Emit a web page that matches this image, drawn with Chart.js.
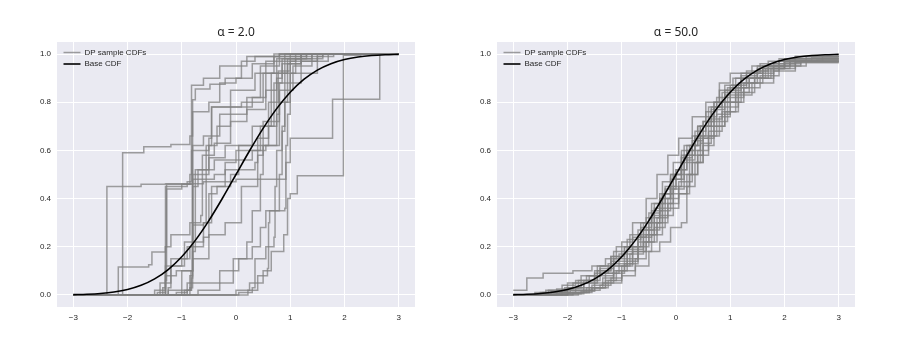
<!DOCTYPE html>
<html>
<head>
<meta charset="utf-8">
<script src="https://cdn.jsdelivr.net/npm/chart.js@4.4.1/dist/chart.umd.min.js"></script>
<style>
  html, body { margin: 0; padding: 0; background: #fff; }
  #wrap { position: relative; width: 900px; height: 345px; }
  .panel { position: absolute; top: 0; width: 450px; height: 345px; }
</style>
</head>
<body>
<div id="wrap">
  <div class="panel" style="left:0"><canvas id="leftChart"></canvas></div>
  <div class="panel" style="left:450px"><canvas id="rightChart"></canvas></div>
</div>
<script>
// tick values
const xTicks = [-3, -2, -1, 0, 1, 2, 3];
const yTicks = [0, 0.2, 0.4, 0.6, 0.8, 1.0];

// base CDF (standard normal) read at these x
const baseX   = [-3, -2.75, -2.5, -2.25, -2, -1.75, -1.5, -1.25, -1, -0.75, -0.5, -0.25, 0,
                 0.25, 0.5, 0.75, 1, 1.25, 1.5, 1.75, 2, 2.25, 2.5, 2.75, 3];
const baseCdf = [0.0013, 0.003, 0.0062, 0.0122, 0.0228, 0.0401, 0.0668, 0.1056, 0.1587, 0.2266, 0.3085, 0.4013, 0.5,
                 0.5987, 0.6915, 0.7734, 0.8413, 0.8944, 0.9332, 0.9599, 0.9772, 0.9878, 0.9938, 0.997, 0.9987];

// alpha = 2 : each sample is a list of [jump x, cdf after jump]
const leftSamples = [
  [[-2.09,0.59],[-1.7,0.615],[-1.2,0.625],[-0.85,0.66],[-0.8,0.81],[-0.75,0.855],[-0.48,0.875],[-0.2,0.9],[0.1,0.97],[0.35,0.99],[1.0,1.0]],
  [[-2.38,0.45],[-1.75,0.46],[-1.3,0.462],[-0.6,0.47],[0.0,0.48],[0.92,0.62],[0.95,0.75],[1.0,0.97],[1.5,1.0]],
  [[-2.17,0.116],[-1.61,0.125],[-1.55,0.178],[-1.3,0.2],[-1.28,0.46],[-0.8,0.5],[-0.5,0.62],[-0.45,0.78],[0.3,0.82],[0.45,0.95],[0.8,1.0]],
  [[0.0,0.02],[0.25,0.05],[0.5,0.1],[0.65,0.18],[0.88,0.25],[0.95,0.4],[1.0,0.42],[1.13,0.495],[1.98,0.995],[2.3,1.0]],
  [[0.22,0.02],[0.4,0.08],[0.58,0.11],[0.6,0.3],[0.62,0.35],[0.9,0.36],[0.92,0.55],[1.0,0.65],[1.78,0.812],[2.65,1.0]],
  [[-1.35,0.03],[-1.3,0.45],[-0.9,0.47],[-0.82,0.6],[-0.5,0.65],[-0.45,0.78],[0.1,0.8],[0.5,0.92],[0.9,1.0]],
  [[-1.3,0.2],[-1.2,0.25],[-0.85,0.3],[-0.8,0.62],[-0.6,0.66],[-0.3,0.75],[0.2,0.82],[0.55,0.97],[1.1,1.0]],
  [[-1.0,0.02],[-0.85,0.08],[-0.8,0.45],[-0.7,0.52],[-0.4,0.56],[0.3,0.6],[0.45,0.7],[0.75,0.9],[0.85,0.98],[1.4,1.0]],
  [[-1.4,0.05],[-1.2,0.12],[-0.95,0.22],[-0.6,0.3],[-0.55,0.62],[-0.35,0.7],[-0.1,0.85],[0.35,0.92],[0.7,0.99],[1.3,1.0]],
  [[-1.25,0.02],[-1.0,0.1],[-0.8,0.15],[-0.5,0.25],[-0.2,0.3],[0.1,0.45],[0.4,0.58],[0.5,0.72],[0.8,0.8],[0.95,0.96],[1.2,1.0]],
  [[-0.7,0.02],[-0.3,0.05],[-0.05,0.15],[0.2,0.22],[0.3,0.35],[0.45,0.5],[0.5,0.62],[0.75,0.75],[0.8,0.85],[1.05,0.95],[1.4,1.0]],
  [[-0.85,0.03],[-0.8,0.29],[-0.6,0.3],[-0.45,0.45],[-0.1,0.5],[0.05,0.62],[0.3,0.7],[0.6,0.8],[0.78,0.93],[1.0,0.99],[1.6,1.0]],
  [[-1.5,0.02],[-1.3,0.08],[-1.1,0.1],[-0.8,0.18],[-0.75,0.52],[-0.5,0.57],[-0.2,0.62],[0.6,0.7],[0.7,0.88],[0.85,0.96],[1.2,1.0]],
  [[-1.1,0.01],[-0.9,0.05],[-0.3,0.1],[0.05,0.15],[0.3,0.2],[0.45,0.28],[0.55,0.35],[0.8,0.5],[0.85,0.7],[0.9,0.92],[1.1,0.98],[1.6,1.0]],
  [[-1.3,0.12],[-1.0,0.15],[-0.85,0.2],[-0.8,0.48],[-0.4,0.5],[-0.2,0.55],[0.0,0.6],[0.55,0.62],[0.8,0.88],[1.2,0.97],[1.7,1.0]],
  [[-0.9,0.02],[-0.82,0.07],[-0.8,0.76],[-0.5,0.8],[-0.3,0.88],[0.0,0.9],[0.3,0.96],[0.7,1.0]],
  [[0.05,0.01],[0.3,0.03],[0.35,0.15],[0.55,0.2],[0.7,0.24],[0.72,0.45],[0.75,0.6],[0.85,0.68],[0.9,0.8],[1.0,0.92],[1.5,0.99],[1.8,1.0]],
  [[-1.25,0.03],[-1.2,0.15],[-0.9,0.2],[-0.6,0.24],[-0.5,0.42],[-0.35,0.45],[-0.2,0.52],[0.35,0.55],[0.4,0.65],[0.6,0.7],[0.65,0.92],[0.95,0.98],[1.3,1.0]],
  [[-1.45,0.01],[-1.3,0.06],[-1.28,0.44],[-1.0,0.46],[-0.85,0.5],[-0.82,0.87],[-0.6,0.9],[-0.3,0.95],[0.2,0.99],[0.8,1.0]],
  [[-0.95,0.02],[-0.83,0.1],[-0.8,0.3],[-0.65,0.33],[-0.62,0.58],[-0.4,0.63],[-0.1,0.72],[0.2,0.77],[0.55,0.85],[0.75,0.98],[1.2,1.0]]
];

// alpha = 50
const rightSamples = [
  [[-3,0.02],[-2.75,0.07],[-2.45,0.09],[-1.9,0.1],[-1.55,0.12],[-1.3,0.15],[-1.1,0.2],[-0.85,0.25],[-0.6,0.3],[-0.4,0.38],[-0.2,0.45],[0.0,0.52],[0.2,0.6],[0.45,0.7],[0.7,0.78],[0.9,0.85],[1.2,0.9],[1.6,0.94],[2.0,0.96],[2.3,0.97]],
  [[-2.6,0.005],[-2.0,0.01],[-1.6,0.03],[-1.3,0.05],[-1.0,0.08],[-0.75,0.12],[-0.5,0.18],[-0.3,0.22],[-0.1,0.28],[0.1,0.3],[0.2,0.45],[0.35,0.55],[0.5,0.65],[0.7,0.72],[0.95,0.8],[1.2,0.88],[1.5,0.93],[1.9,0.97],[2.4,0.99]],
  [[-2.3,0.01],[-2.0,0.03],[-1.8,0.06],[-1.5,0.1],[-1.2,0.16],[-1.0,0.22],[-0.8,0.3],[-0.55,0.4],[-0.35,0.5],[-0.15,0.58],[0.05,0.65],[0.3,0.74],[0.55,0.8],[0.8,0.88],[1.0,0.92],[1.4,0.95],[1.9,0.97],[2.5,0.98]],
  [[-2.5,0.01],[-2.1,0.02],[-1.7,0.05],[-1.45,0.08],[-1.15,0.12],[-0.9,0.18],[-0.7,0.24],[-0.45,0.33],[-0.25,0.42],[-0.05,0.48],[0.15,0.56],[0.35,0.65],[0.6,0.73],[0.85,0.8],[1.1,0.86],[1.35,0.9],[1.7,0.95],[2.1,0.97],[2.7,0.98]],
  [[-2.2,0.01],[-1.95,0.02],[-1.55,0.04],[-1.35,0.07],[-1.15,0.1],[-0.95,0.14],[-0.7,0.2],[-0.5,0.27],[-0.3,0.35],[-0.1,0.45],[0.1,0.55],[0.25,0.62],[0.45,0.7],[0.65,0.77],[0.9,0.83],[1.15,0.88],[1.45,0.92],[1.8,0.96],[2.2,0.99]],
  [[-2.4,0.02],[-2.1,0.04],[-1.85,0.06],[-1.6,0.08],[-1.4,0.11],[-1.15,0.15],[-0.9,0.19],[-0.6,0.25],[-0.4,0.3],[-0.25,0.38],[-0.05,0.44],[0.15,0.5],[0.3,0.58],[0.5,0.66],[0.75,0.75],[1.0,0.82],[1.25,0.88],[1.6,0.94],[2.0,0.965]],
  [[-2.0,0.005],[-1.7,0.02],[-1.5,0.05],[-1.3,0.09],[-1.05,0.13],[-0.8,0.2],[-0.6,0.27],[-0.4,0.36],[-0.2,0.44],[0.0,0.52],[0.2,0.62],[0.4,0.7],[0.6,0.78],[0.8,0.85],[1.05,0.9],[1.3,0.93],[1.7,0.97],[2.2,0.99]],
  [[-1.9,0.01],[-1.6,0.02],[-1.4,0.04],[-1.2,0.07],[-1.0,0.1],[-0.75,0.15],[-0.55,0.22],[-0.35,0.3],[-0.15,0.38],[0.05,0.45],[0.25,0.55],[0.45,0.63],[0.65,0.7],[0.9,0.78],[1.15,0.84],[1.45,0.9],[1.8,0.95],[2.3,0.97]],
  [[-2.3,0.015],[-2.0,0.03],[-1.7,0.06],[-1.45,0.1],[-1.2,0.14],[-0.95,0.2],[-0.65,0.28],[-0.45,0.35],[-0.25,0.42],[-0.05,0.5],[0.15,0.58],[0.35,0.66],[0.55,0.74],[0.75,0.82],[1.0,0.87],[1.3,0.92],[1.6,0.95],[2.0,0.975]],
  [[-2.1,0.01],[-1.85,0.03],[-1.6,0.06],[-1.4,0.09],[-1.15,0.12],[-0.85,0.17],[-0.6,0.22],[-0.4,0.28],[-0.2,0.36],[0.05,0.42],[0.25,0.5],[0.4,0.6],[0.6,0.68],[0.85,0.76],[1.1,0.84],[1.35,0.9],[1.75,0.94],[2.2,0.965]],
  [[-2.6,0.01],[-2.2,0.025],[-1.9,0.05],[-1.65,0.08],[-1.4,0.12],[-1.15,0.18],[-0.9,0.23],[-0.65,0.3],[-0.45,0.38],[-0.25,0.47],[-0.05,0.55],[0.15,0.62],[0.4,0.7],[0.65,0.78],[0.85,0.84],[1.1,0.9],[1.5,0.94],[2.0,0.97],[2.6,0.975]],
  [[-1.8,0.01],[-1.55,0.03],[-1.3,0.06],[-1.1,0.1],[-0.9,0.15],[-0.7,0.22],[-0.5,0.3],[-0.3,0.4],[-0.1,0.48],[0.1,0.58],[0.3,0.66],[0.5,0.72],[0.7,0.8],[0.95,0.86],[1.2,0.91],[1.5,0.95],[1.9,0.98],[2.5,0.985]],
  [[-2.2,0.005],[-1.75,0.015],[-1.5,0.03],[-1.25,0.06],[-1.0,0.12],[-0.8,0.18],[-0.55,0.25],[-0.35,0.32],[-0.15,0.4],[0.05,0.47],[0.3,0.55],[0.5,0.62],[0.7,0.7],[0.9,0.76],[1.15,0.83],[1.4,0.88],[1.8,0.93],[2.2,0.97]],
  [[-2.45,0.01],[-2.05,0.03],[-1.75,0.05],[-1.5,0.09],[-1.25,0.13],[-1.05,0.17],[-0.8,0.24],[-0.55,0.32],[-0.3,0.4],[-0.1,0.5],[0.1,0.6],[0.35,0.68],[0.55,0.76],[0.75,0.8],[1.0,0.86],[1.3,0.9],[1.65,0.94],[2.1,0.98],[2.7,0.99]],
  [[-2.0,0.01],[-1.65,0.03],[-1.35,0.05],[-1.15,0.09],[-0.95,0.13],[-0.7,0.18],[-0.45,0.25],[-0.25,0.33],[-0.05,0.42],[0.2,0.5],[0.4,0.58],[0.6,0.66],[0.8,0.74],[1.0,0.8],[1.25,0.86],[1.55,0.91],[1.9,0.95],[2.4,0.97]],
  [[-2.35,0.02],[-2.0,0.05],[-1.75,0.08],[-1.45,0.12],[-1.2,0.16],[-0.95,0.2],[-0.7,0.27],[-0.5,0.34],[-0.3,0.42],[-0.1,0.5],[0.1,0.57],[0.3,0.64],[0.5,0.72],[0.7,0.8],[0.9,0.87],[1.2,0.92],[1.55,0.96],[2.0,0.98]]
];

const GRAY = 'rgba(128,128,128,0.75)';
const TEXT = '#262626';

// grey plot background like seaborn darkgrid
const bgPlugin = {
    id: 'plotBg',
    beforeDraw(chart) {
        const a = chart.chartArea;
        const c = chart.ctx;
        c.save();
        c.fillStyle = '#eaeaf2';
        c.fillRect(a.left, a.top, a.right - a.left, a.bottom - a.top);
        c.restore();
    },
    // legend sits inside the axes, top-left corner
    afterLayout(chart) {
        const lg = chart.legend;
        if (!lg) return;
        const a = chart.chartArea;
        const h = lg.height;
        lg.left = a.left + 3;
        lg.top = a.top + 3;
        lg.bottom = lg.top + h;
    }
};

function stepData(sample) {
    const pts = [];
    if (sample[0][0] > -3) pts.push({ x: -3, y: 0 });
    sample.forEach(p => pts.push({ x: p[0], y: p[1] }));
    pts.push({ x: 3, y: sample[sample.length - 1][1] });
    return pts;
}

function makePanel(id, title, samples, axisWidth, rightPad) {
    const datasets = samples.map((s, i) => ({
        label: i === 0 ? 'DP sample CDFs' : '',
        data: stepData(s),
        borderColor: GRAY,
        backgroundColor: GRAY,
        borderWidth: 1.5,
        pointRadius: 0,
        stepped: true,
        fill: false,
        order: 1
    }));
    datasets.push({
        label: 'Base CDF',
        data: baseX.map((x, i) => ({ x: x, y: baseCdf[i] })),
        borderColor: '#000',
        backgroundColor: '#000',
        borderWidth: 1.6,
        pointRadius: 0,
        cubicInterpolationMode: 'monotone',
        fill: false,
        order: 0
    });

    return new Chart(document.getElementById(id), {
        type: 'line',
        data: { datasets: datasets },
        options: {
            responsive: true,
            maintainAspectRatio: false,
            animation: false,
            events: [],
            layout: { padding: { left: 0, right: rightPad, top: 0, bottom: 0 } },
            plugins: {
                title: {
                    display: true,
                    text: title,
                    fullSize: false,
                    color: TEXT,
                    font: { family: 'Noto Sans', size: 12, weight: 'normal' },
                    padding: { top: 25, bottom: 2.6 }
                },
                legend: {
                    position: 'chartArea',
                    align: 'start',
                    labels: {
                        usePointStyle: true,
                        pointStyle: 'line',
                        pointStyleWidth: 17,
                        padding: 3.5,
                        color: TEXT,
                        font: { family: 'Liberation Sans', size: 8 },
                        filter: item => item.text !== '',
                        sort: (a, b) => a.datasetIndex - b.datasetIndex
                    }
                },
                tooltip: { enabled: false }
            },
            scales: {
                x: {
                    type: 'linear',
                    min: -3.3,
                    max: 3.3,
                    afterBuildTicks: s => { s.ticks = xTicks.map(v => ({ value: v })); },
                    afterFit: s => { s.height = 38; },
                    border: { display: false },
                    grid: { color: '#fff', lineWidth: 1, drawTicks: false },
                    ticks: {
                        padding: 6,
                        color: TEXT,
                        font: { family: 'Liberation Sans', size: 8 },
                        callback: v => v < 0 ? '\u2212' + Math.abs(v) : String(v)
                    }
                },
                y: {
                    type: 'linear',
                    min: -0.05,
                    max: 1.05,
                    afterBuildTicks: s => { s.ticks = yTicks.map(v => ({ value: v })); },
                    afterFit: s => { s.width = axisWidth; },
                    border: { display: false },
                    grid: { color: '#fff', lineWidth: 1, drawTicks: false },
                    ticks: {
                        padding: 6,
                        color: TEXT,
                        font: { family: 'Liberation Sans', size: 8 },
                        callback: v => v.toFixed(1)
                    }
                }
            }
        },
        plugins: [bgPlugin]
    });
}

makePanel('leftChart', 'α = 2.0', leftSamples, 57, 35);
makePanel('rightChart', 'α = 50.0', rightSamples, 47, 45);
</script>
</body>
</html>
